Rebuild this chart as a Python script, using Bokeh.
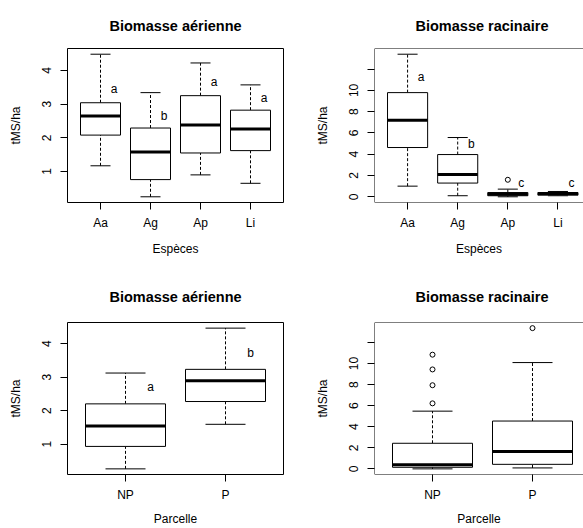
from bokeh.plotting import figure
from bokeh.layouts import column, row
from bokeh.models import FixedTicker, Span, Range1d, ColumnDataSource
from bokeh.core.properties import value
from bokeh.embed import file_html
from bokeh.resources import INLINE

FONT = "Liberation Sans"

# ---- data: species ----
species = ["Aa", "Ag", "Ap", "Li"]
aer_sp_low = [1.17, 0.25, 0.90, 0.65]
aer_sp_q1 = [2.08, 0.76, 1.55, 1.62]
aer_sp_med = [2.65, 1.58, 2.38, 2.26]
aer_sp_q3 = [3.04, 2.29, 3.25, 2.82]
aer_sp_high = [4.48, 3.34, 4.22, 3.57]
aer_sp_letters = ["a", "b", "a", "a"]
aer_sp_letter_y = [3.45, 2.65, 3.66, 3.18]
aer_sp_out_cat = []
aer_sp_out_val = []

rac_sp_low = [1.0, 0.1, 0.0, 0.1]
rac_sp_q1 = [4.63, 1.29, 0.10, 0.15]
rac_sp_med = [7.2, 2.1, 0.25, 0.30]
rac_sp_q3 = [9.79, 3.97, 0.40, 0.40]
rac_sp_high = [13.4, 5.57, 0.72, 0.50]
rac_sp_letters = ["a", "b", "c", "c"]
rac_sp_letter_y = [11.3, 5.0, 1.25, 1.25]
rac_sp_out_cat = ["Ap"]
rac_sp_out_val = [1.6]

# ---- data: parcelle ----
parcelle = ["NP", "P"]
aer_pa_low = [0.26, 1.59]
aer_pa_q1 = [0.93, 2.27]
aer_pa_med = [1.54, 2.89]
aer_pa_q3 = [2.20, 3.23]
aer_pa_high = [3.12, 4.46]
aer_pa_letters = ["a", "b"]
aer_pa_letter_y = [2.7, 3.73]
aer_pa_out_cat = []
aer_pa_out_val = []

rac_pa_low = [0.0, 0.09]
rac_pa_q1 = [0.15, 0.43]
rac_pa_med = [0.40, 1.64]
rac_pa_q3 = [2.43, 4.54]
rac_pa_high = [5.48, 10.09]
rac_pa_letters = []
rac_pa_letter_y = []
rac_pa_out_cat = ["NP", "NP", "NP", "NP", "P"]
rac_pa_out_val = [10.84, 9.44, 7.94, 6.22, 13.36]

y_ticks_aer = [1, 2, 3, 4]
y_ticks_rac = [0, 2, 4, 6, 8, 10, 12]
y_label = "tMS/ha"
title_aer = "Biomasse aérienne"
title_rac = "Biomasse racinaire"
x_label_sp = "Espèces"
x_label_pa = "Parcelle"


def make_panel(title, cats, low, q1, med, q3, high, letters, letter_y,
               out_cat, out_val, yticks, xlabel, width, height,
               bl, br, bt, bb, x_end, clipped, label_overrides=None,
               letter_dx=0.27, xlabel_standoff=9, title_standoff=28):
    n = len(cats)
    xs = list(range(1, n + 1))
    data_min = min(low + out_val)
    data_max = max(high + out_val)
    rng = data_max - data_min
    y0 = data_min - 0.04 * rng
    y1 = data_max + 0.04 * rng
    x0 = 0.5 - 0.04 * n
    if x_end is None:
        x_end = n + 0.5 + 0.04 * n

    p = figure(width=width, height=height, output_backend="svg",
               toolbar_location=None, tools="",
               x_range=Range1d(x0, x_end), y_range=Range1d(y0, y1),
               min_border_left=bl, min_border_right=br,
               min_border_top=bt, min_border_bottom=bb)
    p.background_fill_color = "white"
    p.border_fill_color = "white"
    p.xgrid.visible = False
    p.ygrid.visible = False

    # title
    p.title.text = title
    p.title.text_font = FONT
    p.title.text_font_size = "14.5px"
    p.title.text_font_style = "bold"
    p.title.text_color = "black"
    p.title.standoff = title_standoff
    p.title.vertical_align = "middle"
    if clipped:
        p.title.align = "left"
        p.title.offset = 41
    else:
        p.title.align = "center"

    # axes
    for ax in (p.xaxis[0], p.yaxis[0]):
        ax.axis_line_color = None
        ax.major_tick_in = 0
        ax.major_tick_out = 7
        ax.minor_tick_line_color = None
        ax.major_tick_line_color = "black"
        ax.major_label_text_font = FONT
        ax.major_label_text_font_size = "12px"
        ax.major_label_text_color = "black"
        ax.axis_label_text_font = FONT
        ax.axis_label_text_font_size = "12px"
        ax.axis_label_text_font_style = "normal"
        ax.axis_label_text_color = "black"
    p.xaxis.ticker = FixedTicker(ticks=xs)
    p.xaxis.major_label_overrides = {x: c for x, c in zip(xs, cats)}
    p.xaxis.major_label_standoff = 6
    p.xaxis.axis_label = xlabel
    p.xaxis.axis_label_standoff = xlabel_standoff

    p.yaxis.ticker = FixedTicker(ticks=yticks)
    p.yaxis.major_label_orientation = "vertical"
    p.yaxis.major_label_standoff = 9
    p.yaxis.axis_label = y_label
    p.yaxis.axis_label_standoff = 17
    if label_overrides:
        p.yaxis.major_label_overrides = label_overrides

    # frame
    if clipped:
        p.outline_line_color = None
        for loc, dim in ((y0, "width"), (y1, "width"), (x0, "height")):
            p.add_layout(Span(location=loc, dimension=dim,
                              line_color="black", line_width=1))
    else:
        p.outline_line_color = "black"
        p.outline_line_width = 1
        p.outline_line_alpha = 1

    src = ColumnDataSource(dict(
        x=xs, low=low, q1=q1, med=med, q3=q3, high=high,
        xl=[x - 0.2 for x in xs], xr=[x + 0.2 for x in xs],
        bl=[x - 0.4 for x in xs], br=[x + 0.4 for x in xs]))

    # whiskers
    p.segment(x0="x", y0="q3", x1="x", y1="high", source=src,
              line_color="black", line_width=1, line_dash="3 2")
    p.segment(x0="x", y0="low", x1="x", y1="q1", source=src,
              line_color="black", line_width=1, line_dash="3 2")
    # caps
    p.segment(x0="xl", y0="high", x1="xr", y1="high", source=src,
              line_color="black", line_width=1)
    p.segment(x0="xl", y0="low", x1="xr", y1="low", source=src,
              line_color="black", line_width=1)
    # boxes
    p.vbar(x="x", width=0.8, bottom="q1", top="q3", source=src,
           fill_color="white", line_color="black", line_width=1)
    # medians
    p.segment(x0="bl", y0="med", x1="br", y1="med", source=src,
              line_color="black", line_width=3, line_cap="butt")
    # outliers
    if out_val:
        ox = [cats.index(c) + 1 for c in out_cat]
        p.scatter(x=ox, y=out_val, marker="circle", size=5,
                  fill_color=None, line_color="black", line_width=1)
    # letters
    if letters:
        lx = [x + letter_dx for x in xs]
        p.text(x=lx, y=letter_y, text=letters,
               text_font=value(FONT), text_font_size="12px",
               text_color="black", text_align="center",
               text_baseline="middle")
    return p


p1 = make_panel(title_aer, species, aer_sp_low, aer_sp_q1, aer_sp_med,
                aer_sp_q3, aer_sp_high, aer_sp_letters, aer_sp_letter_y,
                aer_sp_out_cat, aer_sp_out_val, y_ticks_aer, x_label_sp,
                291, 264, 67, 8, 48, 62, None, False, title_standoff=28)
p2 = make_panel(title_rac, species, rac_sp_low, rac_sp_q1, rac_sp_med,
                rac_sp_q3, rac_sp_high, rac_sp_letters, rac_sp_letter_y,
                rac_sp_out_cat, rac_sp_out_val, y_ticks_rac, x_label_sp,
                292, 264, 83, 0, 48, 62, 4.51, True,
                label_overrides={12: ""}, title_standoff=28)
p3 = make_panel(title_aer, parcelle, aer_pa_low, aer_pa_q1, aer_pa_med,
                aer_pa_q3, aer_pa_high, aer_pa_letters, aer_pa_letter_y,
                aer_pa_out_cat, aer_pa_out_val, y_ticks_aer, x_label_pa,
                291, 264, 67, 8, 58, 52, None, False, letter_dx=0.25,
                xlabel_standoff=7, title_standoff=33)
p4 = make_panel(title_rac, parcelle, rac_pa_low, rac_pa_q1, rac_pa_med,
                rac_pa_q3, rac_pa_high, rac_pa_letters, rac_pa_letter_y,
                rac_pa_out_cat, rac_pa_out_val, y_ticks_rac, x_label_pa,
                292, 264, 83, 0, 58, 52, 2.51, True,
                label_overrides={12: ""}, xlabel_standoff=7,
                title_standoff=33)

layout = column(row(p1, p2, spacing=0), row(p3, p4, spacing=0), spacing=0)
open("out.html", "w").write(file_html(layout, INLINE))
